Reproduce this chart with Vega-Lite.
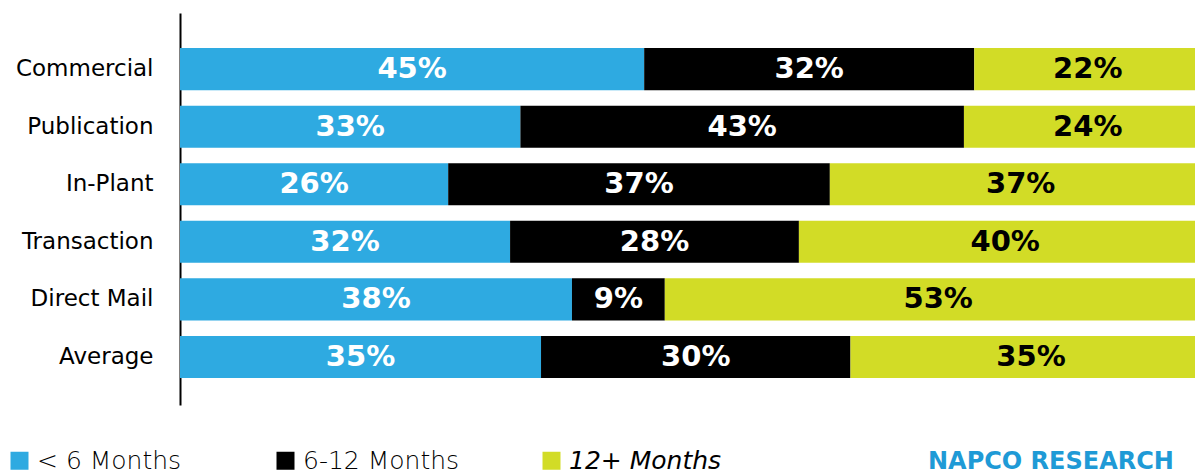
{
  "$schema": "https://vega.github.io/schema/vega-lite/v6.json",
  "width": 1015,
  "height": 392,
  "autosize": {"type": "none"},
  "padding": {"left": 180, "top": 13, "right": 0, "bottom": 67},
  "background": "white",
  "config": {"view": {"stroke": null}},
  "title": {
    "text": "NAPCO RESEARCH",
    "orient": "bottom",
    "anchor": "start",
    "dx": 921,
    "offset": -24,
    "font": "DejaVu Sans",
    "fontWeight": "bold",
    "fontSize": 24,
    "color": "#1f9ad6"
  },
  "data": {
    "values": [
      {"cat": "Commercial", "period": "< 6 Months", "ord": 1, "value": 45},
      {"cat": "Commercial", "period": "6-12 Months", "ord": 2, "value": 32},
      {"cat": "Commercial", "period": "12+ Months", "ord": 3, "value": 22},
      {"cat": "Publication", "period": "< 6 Months", "ord": 1, "value": 33},
      {"cat": "Publication", "period": "6-12 Months", "ord": 2, "value": 43},
      {"cat": "Publication", "period": "12+ Months", "ord": 3, "value": 24},
      {"cat": "In-Plant", "period": "< 6 Months", "ord": 1, "value": 26},
      {"cat": "In-Plant", "period": "6-12 Months", "ord": 2, "value": 37},
      {"cat": "In-Plant", "period": "12+ Months", "ord": 3, "value": 37},
      {"cat": "Transaction", "period": "< 6 Months", "ord": 1, "value": 32},
      {"cat": "Transaction", "period": "6-12 Months", "ord": 2, "value": 28},
      {"cat": "Transaction", "period": "12+ Months", "ord": 3, "value": 40},
      {"cat": "Direct Mail", "period": "< 6 Months", "ord": 1, "value": 38},
      {"cat": "Direct Mail", "period": "6-12 Months", "ord": 2, "value": 9},
      {"cat": "Direct Mail", "period": "12+ Months", "ord": 3, "value": 53},
      {"cat": "Average", "period": "< 6 Months", "ord": 1, "value": 35},
      {"cat": "Average", "period": "6-12 Months", "ord": 2, "value": 30},
      {"cat": "Average", "period": "12+ Months", "ord": 3, "value": 35}
    ]
  },
  "transform": [
    {"stack": "value", "groupby": ["cat"], "sort": [{"field": "ord", "order": "ascending"}], "as": ["v0", "v1"]},
    {"calculate": "(datum.v0 + datum.v1) / 2", "as": "mid"},
    {"calculate": "datum.value + '%'", "as": "label"}
  ],
  "encoding": {
    "y": {
      "field": "cat",
      "type": "nominal",
      "sort": ["Commercial", "Publication", "In-Plant", "Transaction", "Direct Mail", "Average"],
      "scale": {"paddingInner": 0.27, "paddingOuter": 0.54, "align": 0.565},
      "axis": {
        "title": null,
        "domain": true,
        "domainColor": "#000000",
        "domainWidth": 2,
        "ticks": false,
        "grid": false,
        "labelFont": "DejaVu Sans",
        "labelFontSize": 23,
        "labelColor": "#000000",
        "labelPadding": 27
      }
    }
  },
  "layer": [
    {
      "mark": {"type": "bar", "clip": true},
      "encoding": {
        "x": {"field": "v0", "type": "quantitative", "scale": {"domain": [0, 98.4], "nice": false, "zero": true}, "axis": null},
        "x2": {"field": "v1"},
        "color": {
          "field": "period",
          "type": "nominal",
          "scale": {"domain": ["< 6 Months", "6-12 Months", "12+ Months"], "range": ["#2eaae1", "#000000", "#d2dc26"]},
          "legend": {
            "orient": "none",
            "legendX": -173,
            "legendY": 435,
            "direction": "horizontal",
            "title": null,
            "symbolType": "square",
            "symbolSize": 324,
            "symbolStrokeWidth": 0,
            "symbolOpacity": 1,
            "labelFont": "DejaVu Sans",
            "labelFontWeight": 200,
            "labelFontSize": 25,
            "labelColor": "#000000",
            "labelOffset": 5,
            "labelLimit": 400,
            "gridAlign": "all",
            "columnPadding": 79,
            "encode": {
              "labels": {
                "update": {
                  "fontStyle": {"signal": "datum.label === '12+ Months' ? 'italic' : 'normal'"}
                }
              }
            }
          }
        }
      }
    },
    {
      "mark": {"type": "text", "font": "DejaVu Sans", "fontWeight": "bold", "fontSize": 29, "baseline": "middle", "align": "center"},
      "encoding": {
        "x": {"field": "mid", "type": "quantitative"},
        "text": {"field": "label"},
        "color": {
          "condition": {"test": "datum.period === '12+ Months'", "value": "#000000"},
          "value": "#ffffff"
        }
      }
    }
  ]
}
